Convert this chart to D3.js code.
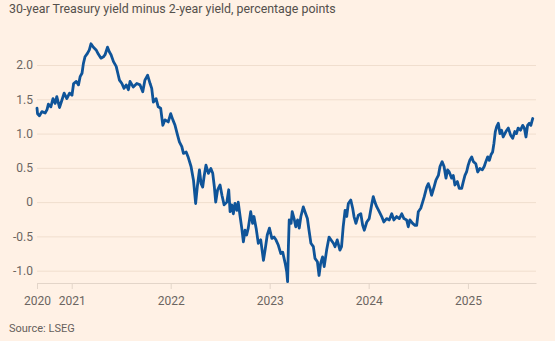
<!DOCTYPE html>
<html>
<head>
<meta charset="utf-8">
<script src="https://cdn.jsdelivr.net/npm/d3@7"></script>
<style>
  html, body { margin: 0; padding: 0; background: #fff1e5; }
  svg { display: block; }
  text { font-family: Roboto, "Open Sans", sans-serif; }
</style>
</head>
<body>
<svg id="chart" width="555" height="341"></svg>
<script>
// 30-year minus 2-year US Treasury yield spread, percentage points
const dates = [
  "2020-08-26","2020-08-28","2020-09-04","2020-09-13","2020-09-25","2020-10-02","2020-10-07","2020-10-16",
  "2020-10-24","2020-11-01","2020-11-07","2020-11-17","2020-11-26","2020-12-04","2020-12-14","2020-12-24",
  "2021-01-02","2021-01-08","2021-01-18","2021-01-26","2021-02-01","2021-02-08","2021-02-13","2021-02-19",
  "2021-02-28","2021-03-07","2021-03-13","2021-03-22","2021-04-01","2021-04-09","2021-04-19","2021-04-28",
  "2021-05-04","2021-05-13","2021-05-20","2021-05-26","2021-06-04","2021-06-14","2021-06-20","2021-06-26",
  "2021-07-05","2021-07-13","2021-07-21","2021-07-29","2021-08-04","2021-08-16","2021-08-29","2021-09-10",
  "2021-09-20","2021-09-28","2021-10-08","2021-10-17","2021-10-23","2021-10-29","2021-11-08","2021-11-16",
  "2021-11-25","2021-12-03","2021-12-11","2021-12-23",
  "2022-01-01","2022-01-09","2022-01-17","2022-01-26","2022-02-02","2022-02-11","2022-02-17","2022-02-27",
  "2022-03-07","2022-03-17","2022-03-26","2022-04-03","2022-04-09","2022-04-17","2022-04-23","2022-04-29",
  "2022-05-04","2022-05-11","2022-05-20","2022-05-29","2022-06-05","2022-06-11","2022-06-16","2022-06-23",
  "2022-07-02","2022-07-09","2022-07-17","2022-07-27","2022-08-03","2022-08-08","2022-08-14","2022-08-20",
  "2022-08-26","2022-09-02","2022-09-07","2022-09-14","2022-09-20","2022-09-26","2022-10-02","2022-10-08",
  "2022-10-14","2022-10-23","2022-10-30","2022-11-04","2022-11-12","2022-11-20","2022-11-29","2022-12-09",
  "2022-12-15","2022-12-23","2022-12-31",
  "2023-01-09","2023-01-17","2023-01-24","2023-02-02","2023-02-11","2023-02-18","2023-02-27","2023-03-05",
  "2023-03-08","2023-03-11","2023-03-14","2023-03-21","2023-03-25","2023-04-01","2023-04-07","2023-04-14",
  "2023-04-20","2023-04-26","2023-05-05","2023-05-11","2023-05-20","2023-05-26","2023-06-02","2023-06-11",
  "2023-06-17","2023-06-26","2023-07-02","2023-07-08","2023-07-15","2023-07-21","2023-07-30","2023-08-08",
  "2023-08-11","2023-08-24","2023-08-30","2023-09-07","2023-09-17","2023-09-23","2023-09-29","2023-10-06",
  "2023-10-12","2023-10-18","2023-10-27","2023-11-03","2023-11-08","2023-11-15","2023-11-24","2023-12-03",
  "2023-12-10","2023-12-16","2023-12-25",
  "2024-01-03","2024-01-12","2024-01-18","2024-01-24","2024-01-31","2024-02-09","2024-02-18","2024-02-26",
  "2024-03-07","2024-03-17","2024-03-26","2024-04-03","2024-04-13","2024-04-23","2024-05-02","2024-05-10",
  "2024-05-20","2024-05-26","2024-06-01","2024-06-11","2024-06-20","2024-06-26","2024-07-02","2024-07-11",
  "2024-07-18","2024-07-24","2024-08-02","2024-08-08","2024-08-14","2024-08-20","2024-08-29","2024-09-05",
  "2024-09-14","2024-09-20","2024-09-28","2024-10-05","2024-10-12","2024-10-18","2024-10-24","2024-11-02",
  "2024-11-08","2024-11-14","2024-11-23","2024-11-30","2024-12-09","2024-12-15","2024-12-21","2024-12-27",
  "2025-01-02","2025-01-08","2025-01-15","2025-01-21","2025-01-30","2025-02-06","2025-02-14","2025-02-23",
  "2025-03-02","2025-03-08","2025-03-15","2025-03-21","2025-03-27","2025-04-02","2025-04-07","2025-04-12",
  "2025-04-17","2025-04-23","2025-04-29","2025-05-05","2025-05-11","2025-05-21","2025-05-30","2025-06-07",
  "2025-06-15","2025-06-23","2025-06-29","2025-07-05","2025-07-14","2025-07-22","2025-07-28","2025-08-03",
  "2025-08-09","2025-08-15","2025-08-21","2025-08-28"
];

const spread = [
  1.37,1.29,1.26,1.32,1.30,1.35,1.43,1.39,
  1.51,1.44,1.54,1.38,1.49,1.59,1.51,1.59,
  1.56,1.73,1.76,1.71,1.83,1.88,2.02,2.12,
  2.17,2.22,2.31,2.26,2.22,2.16,2.10,2.12,
  2.15,2.26,2.19,2.15,2.05,1.98,1.88,1.78,
  1.73,1.66,1.71,1.64,1.76,1.68,1.73,1.71,
  1.61,1.78,1.85,1.73,1.66,1.46,1.51,1.39,
  1.37,1.12,1.20,1.17,
  1.29,1.20,1.12,0.98,0.88,0.81,0.71,0.73,
  0.65,0.52,0.32,-0.02,0.22,0.47,0.27,0.22,
  0.37,0.54,0.42,0.49,0.42,0.22,0.00,0.18,
  0.25,0.10,-0.04,0.00,0.18,-0.14,-0.04,-0.17,
  -0.02,-0.12,0.00,-0.21,-0.38,-0.58,-0.41,-0.48,
  -0.38,-0.14,-0.31,-0.21,-0.38,-0.60,-0.55,-0.85,
  -0.70,-0.48,-0.38,
  -0.53,-0.51,-0.55,-0.63,-0.75,-0.73,-0.89,-1.02,
  -1.16,-0.65,-0.26,-0.31,-0.14,-0.24,-0.36,-0.26,
  -0.38,-0.21,-0.07,-0.14,-0.24,-0.41,-0.60,-0.65,
  -0.82,-0.87,-1.07,-0.89,-0.80,-0.94,-0.70,-0.51,
  -0.53,-0.60,-0.65,-0.55,-0.70,-0.65,-0.36,-0.12,
  -0.21,-0.02,0.03,-0.09,-0.21,-0.31,-0.19,-0.17,
  -0.34,-0.41,-0.29,
  -0.24,-0.04,0.08,0.00,-0.07,-0.14,-0.21,-0.29,
  -0.24,-0.26,-0.17,-0.26,-0.21,-0.24,-0.17,-0.24,
  -0.26,-0.36,-0.26,-0.31,-0.34,-0.34,-0.14,-0.09,
  0.00,0.08,0.22,0.27,0.20,0.10,0.22,0.32,
  0.39,0.52,0.59,0.52,0.35,0.47,0.44,0.35,
  0.39,0.25,0.30,0.20,0.20,0.30,0.39,0.44,
  0.54,0.61,0.66,0.59,0.56,0.44,0.49,0.47,
  0.52,0.59,0.66,0.61,0.69,0.73,0.86,1.03,
  1.10,1.15,1.00,1.05,0.95,1.03,1.08,0.98,
  0.93,1.03,1.00,1.08,1.05,1.12,1.08,0.95,
  1.12,1.15,1.12,1.22
];

const yTicks = [-1, -0.5, 0, 0.5, 1, 1.5, 2];
const yTickLabels = ["-1.0", "-0.5", "0", "0.5", "1.0", "1.5", "2.0"];
const xTickDates = ["2020-08-26", "2021-01-01", "2022-01-01", "2023-01-01", "2024-01-01", "2025-01-01"];
const xTickLabels = ["2020", "2021", "2022", "2023", "2024", "2025"];
const xDomain = ["2020-08-26", "2025-09-09"];
const yDomain = [-1.18, 2.5];

const titleText = "30-year Treasury yield minus 2-year yield, percentage points";
const sourceText = "Source: LSEG";

const parse = d3.timeParse("%Y-%m-%d");
const series = dates.map((d, i) => ({ date: parse(d), value: spread[i] }));

const width = 555, height = 341;
const plot = { left: 37, right: 536, top: 30.75, bottom: 283 };

const svg = d3.select("#chart");
svg.append("rect").attr("width", width).attr("height", height).attr("fill", "#fff1e5");

const x = d3.scaleTime().domain(xDomain.map(parse)).range([plot.left, plot.right]);
const y = d3.scaleLinear().domain(yDomain).range([plot.bottom, plot.top]);

// horizontal gridlines with value labels on the left
const yAxis = svg.append("g")
  .attr("transform", `translate(${plot.left},0)`)
  .call(d3.axisLeft(y)
    .tickValues(yTicks)
    .tickFormat((d, i) => yTickLabels[i])
    .tickSizeInner(-(plot.right - plot.left))
    .tickSizeOuter(0)
    .tickPadding(4));
yAxis.select(".domain").remove();
yAxis.selectAll(".tick line").attr("stroke", "#f0dece").attr("stroke-width", 1);
yAxis.selectAll(".tick text")
  .attr("fill", "#6b6561")
  .style("font-size", "12px");

// time axis along the bottom
const xAxis = svg.append("g")
  .attr("transform", `translate(0,${plot.bottom})`)
  .call(d3.axisBottom(x)
    .tickValues(xTickDates.map(parse))
    .tickFormat((d, i) => xTickLabels[i])
    .tickSizeInner(6)
    .tickSizeOuter(0)
    .tickPadding(7));
xAxis.select(".domain").attr("stroke", "#e3d5c9");
xAxis.selectAll(".tick line").attr("stroke", "#e3d5c9");
xAxis.selectAll(".tick text")
  .attr("fill", "#6b6561")
  .style("font-size", "12px");

// spread line
const line = d3.line()
  .x(d => x(d.date))
  .y(d => y(d.value));

svg.append("path")
  .datum(series)
  .attr("fill", "none")
  .attr("stroke", "#0f5499")
  .attr("stroke-width", 2.8)
  .attr("stroke-linejoin", "round")
  .attr("stroke-linecap", "round")
  .attr("d", line);

svg.append("text")
  .attr("x", 9)
  .attr("y", 13)
  .attr("fill", "#54504c")
  .style("font-size", "12.4px")
  .text(titleText);

svg.append("text")
  .attr("x", 9)
  .attr("y", 332)
  .attr("fill", "#66605c")
  .style("font-size", "11px")
  .text(sourceText);
</script>
</body>
</html>
